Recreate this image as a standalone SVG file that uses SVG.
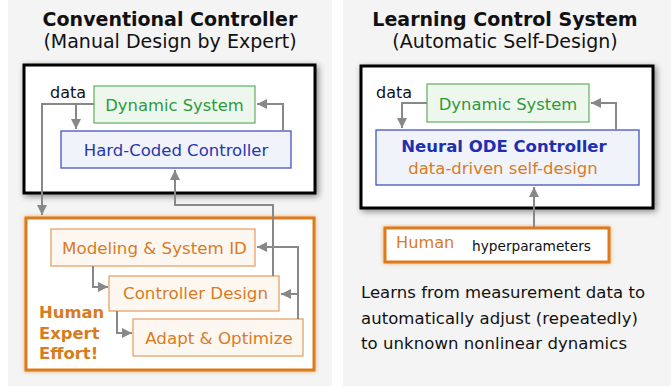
<svg xmlns="http://www.w3.org/2000/svg" width="671" height="386" viewBox="0 0 671 386">
  <defs>
    <filter id="shadow" x="-10%" y="-10%" width="125%" height="130%">
      <feDropShadow dx="2" dy="2" stdDeviation="3" flood-color="#000" flood-opacity="0.45"/>
    </filter>
    <filter id="glow" x="-10%" y="-10%" width="120%" height="130%">
      <feDropShadow dx="0" dy="0" stdDeviation="2.2" flood-color="#e07a10" flood-opacity="0.55"/>
    </filter>
    <marker id="arr" markerUnits="userSpaceOnUse" markerWidth="11" markerHeight="10" refX="10" refY="5" orient="auto">
      <path d="M0,0 L10,5 L0,10 z" fill="#888"/>
    </marker>
    <style>
      text { font-family: "DejaVu Sans", "Liberation Sans", sans-serif; }
      .title { font-size: 19px; font-weight: bold; fill: #111; text-anchor: middle; }
      .sub { font-size: 19px; fill: #111; text-anchor: middle; }
      .frame { fill: #fff; stroke: #000; stroke-width: 3; }
      .orangeframe { fill: #fff; stroke: #dc7a1c; stroke-width: 3; }
      .sys { fill: #eef7ee; stroke: #6cb46c; stroke-width: 1.3; }
      .sys-t { fill: #2f9a3c; font-size: 16.4px; text-anchor: middle; }
      .ctl { fill: #f1f3fa; stroke: #4254c4; stroke-width: 1.3; }
      .ctl-t { fill: #2536b0; font-size: 16.5px; text-anchor: middle; }
      .step { fill: #fdf7f1; stroke: #e6a468; stroke-width: 1.3; }
      .step-t { fill: #d97b1f; font-size: 16.7px; text-anchor: middle; }
      .lbl { fill: #111; font-size: 16px; }
      .body { fill: #111; font-size: 16.5px; }
      .conn path { fill: none; stroke: #888; stroke-width: 2; }
    </style>
  </defs>

  <!-- panels -->
  <rect x="0" y="0" width="671" height="386" fill="#fff"/>
  <rect x="8" y="0" width="324" height="386" fill="#f4f4f4"/>
  <rect x="343" y="0" width="328" height="386" fill="#f4f4f4"/>

  <!-- left panel -->
  <g id="left-heading">
    <text class="title" x="170" y="26">Conventional Controller</text>
    <text class="sub" x="170" y="48">(Manual Design by Expert)</text>
  </g>
  <g id="left-loop">
    <rect class="frame" x="24" y="65" width="291" height="128" filter="url(#shadow)"/>
  </g>
  <g id="left-system">
    <rect class="sys" x="94" y="86" width="161" height="37"/>
    <text class="sys-t" x="174.5" y="111">Dynamic System</text>
  </g>
  <g id="left-controller">
    <rect class="ctl" x="61" y="131" width="230" height="37"/>
    <text class="ctl-t" x="176" y="156">Hard-Coded Controller</text>
  </g>
  <g id="left-data">
    <text class="lbl" x="50" y="98">data</text>
  </g>
  <g id="expert-effort">
    <rect class="orangeframe" x="26" y="218" width="288" height="152" filter="url(#glow)"/>
    <text x="39" y="318" font-size="16.4" font-weight="bold" fill="#d97b1f">Human</text>
    <text x="39" y="339" font-size="16.4" font-weight="bold" fill="#d97b1f">Expert</text>
    <text x="39" y="359" font-size="16.4" font-weight="bold" fill="#d97b1f">Effort!</text>
  </g>
  <g id="modeling">
    <rect class="step" x="51" y="229" width="204" height="37"/>
    <text class="step-t" x="154.5" y="254">Modeling &amp; System ID</text>
  </g>
  <g id="design">
    <rect class="step" x="109" y="276" width="170" height="35"/>
    <text class="step-t" x="195.5" y="299">Controller Design</text>
  </g>
  <g id="adapt">
    <rect class="step" x="133" y="319" width="170" height="37"/>
    <text class="step-t" x="219" y="344">Adapt &amp; Optimize</text>
  </g>

  <!-- right panel -->
  <g id="right-heading">
    <text class="title" x="505" y="26">Learning Control System</text>
    <text class="sub" x="505" y="48">(Automatic Self-Design)</text>
  </g>
  <g id="right-loop">
    <rect class="frame" x="361" y="66" width="292" height="142" filter="url(#shadow)"/>
  </g>
  <g id="right-system">
    <rect class="sys" x="427" y="84" width="162" height="38"/>
    <text class="sys-t" x="508" y="110">Dynamic System</text>
  </g>
  <g id="neural-ode">
    <rect class="ctl" x="376" y="130" width="263" height="55"/>
    <text x="504" y="152" font-size="16.5" font-weight="bold" fill="#1f2fb0" text-anchor="middle">Neural ODE Controller</text>
    <text x="503" y="174" font-size="16.5" fill="#d97b1f" text-anchor="middle">data-driven self-design</text>
  </g>
  <g id="right-data">
    <text class="lbl" x="376" y="98">data</text>
  </g>
  <g id="human">
    <rect class="orangeframe" x="385" y="228" width="224" height="34" filter="url(#glow)" stroke-width="2"/>
    <text x="396" y="248" font-size="16.2" fill="#d97b1f">Human</text>
    <text x="472" y="251" font-size="13.7" fill="#111">hyperparameters</text>
  </g>
  <g id="summary">
    <text class="body" x="361" y="298" textLength="284" lengthAdjust="spacing">Learns from measurement data to</text>
    <text class="body" x="361" y="324" textLength="277" lengthAdjust="spacing">automatically adjust (repeatedly)</text>
    <text class="body" x="361" y="349" textLength="266" lengthAdjust="spacing">to unknown nonlinear dynamics</text>
  </g>

  <!-- connectors -->
  <g id="connectors" class="conn">
    <path d="M94,104 H42 V215" marker-end="url(#arr)"/>
    <path d="M76,104 V129" marker-end="url(#arr)"/>
    <path d="M283,131 V104 H257" marker-end="url(#arr)"/>
    <path d="M273,276 V205 H175 V170" marker-end="url(#arr)"/>
    <path d="M93,266 V287 H108" marker-end="url(#arr)"/>
    <path d="M117,311 V333 H132" marker-end="url(#arr)"/>
    <path d="M298,319 V247 H257" marker-end="url(#arr)"/>
    <path d="M298,294 H281" marker-end="url(#arr)"/>
    <path d="M427,103 H402 V128" marker-end="url(#arr)"/>
    <path d="M616,130 V103 H591" marker-end="url(#arr)"/>
    <path d="M534,228 V187" marker-end="url(#arr)"/>
  </g>
</svg>
